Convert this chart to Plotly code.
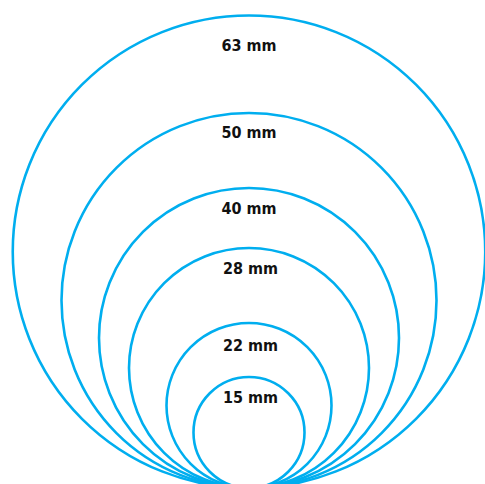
import plotly.graph_objects as go

# pipe sizes (label) and drawn diameter of each ring (chart units)
sizes = [63, 50, 40, 28, 22, 15]
ring_diam = [63, 50, 40, 32, 22, 14.8]
label_gap = [4.2, 2.8, 2.95, 2.95, 3.2, 2.95]

px = 7.5          # pixels per chart unit
cx = 249 / px     # common centre line
W, H = 485, 484
bottom_px = 488   # where all rings touch

color = '#00AEEF'

fig = go.Figure()

for d in ring_diam:
    fig.add_shape(type='circle', xref='x', yref='y',
                  x0=cx - d / 2, x1=cx + d / 2, y0=0, y1=d,
                  line=dict(color=color, width=2.6))

fig.add_trace(go.Scatter(
    x=[cx + (0.2 if s < 30 else 0) for s in sizes],
    y=[d - g for d, g in zip(ring_diam, label_gap)],
    mode='text',
    text=['<b>%d mm</b>' % s for s in sizes],
    textfont=dict(family='DejaVu Sans Condensed, DejaVu Sans', size=16, color='#111111'),
    hoverinfo='skip'
))

ybot = (bottom_px - H) / px
fig.update_layout(
    width=W, height=H,
    margin=dict(l=0, r=0, t=0, b=0),
    paper_bgcolor='white', plot_bgcolor='white',
    showlegend=False,
    xaxis=dict(range=[0, W / px], visible=False, fixedrange=True),
    yaxis=dict(range=[ybot, ybot + H / px], visible=False, fixedrange=True),
)

fig.write_html("out.html", config={'displayModeBar': False},
               post_script="document.body.style.margin='0';")
